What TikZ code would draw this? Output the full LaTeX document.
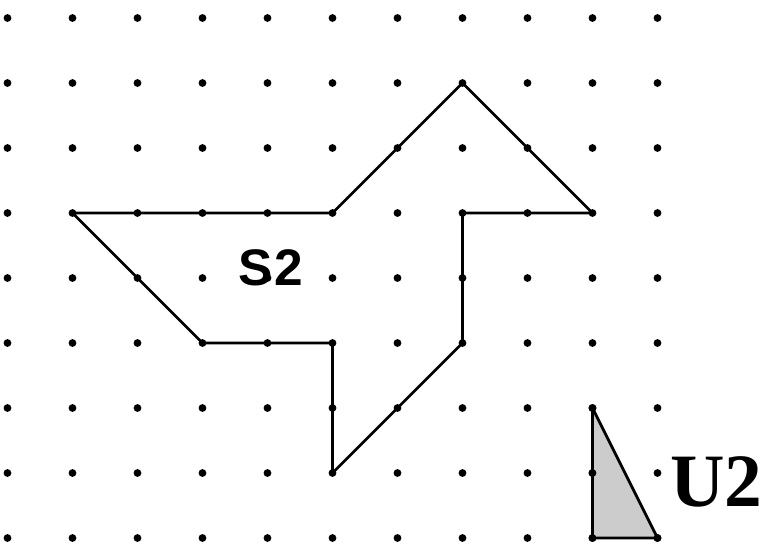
\documentclass[tikz,border=0pt]{standalone}
\usepackage{fontspec}
\setmainfont{Liberation Serif}
\setsansfont{Liberation Sans}

\begin{document}
\begin{tikzpicture}[x=1cm, y=-1cm]
  \tikzstyle{griddot}=[circle, fill = black, inner sep = 0pt, minimum size = 1.2mm]
  \tikzstyle{outline}=[line width = 1.2pt, line join = round]
  \tikzstyle{shaded}=[outline, fill = black!20]
  \tikzstyle{tag}=[font = \bfseries, inner sep = 0pt]

  \useasboundingbox (-0.115,-0.277) rectangle (11.685,8.185);

  \foreach \col in {0,...,10}
    \foreach \row in {0,...,8}
      \node[griddot] (d-\col-\row) at (\col,\row) {};

  % shape S2
  \coordinate (s1) at (1,3);
  \coordinate (s2) at (5,3);
  \coordinate (s3) at (7,1);
  \coordinate (s4) at (9,3);
  \coordinate (s5) at (7,3);
  \coordinate (s6) at (7,5);
  \coordinate (s7) at (5,7);
  \coordinate (s8) at (5,5);
  \coordinate (s9) at (3,5);
  \draw[outline] (s1) -- (s2) -- (s3) -- (s4) -- (s5) -- (s6)
    -- (s7) -- (s8) -- (s9) -- cycle;

  % shape U2
  \coordinate (u1) at (9,6);
  \coordinate (u2) at (9,8);
  \coordinate (u3) at (10,8);
  \draw[shaded] (u1) -- (u2) -- (u3) -- cycle;
  \foreach \col/\row in {9/6, 9/7, 9/8, 10/8}
    \node[griddot] at (\col,\row) {};

  \node[tag, font = \sffamily\bfseries\fontsize{22.5}{26}\selectfont] (S2) at (4.05,3.85) {S\kern0.5pt2};
  \node[tag, font = \bfseries\fontsize{33}{36}\selectfont] (U2) at (10.91,7.13) {U2};
\end{tikzpicture}
\end{document}
